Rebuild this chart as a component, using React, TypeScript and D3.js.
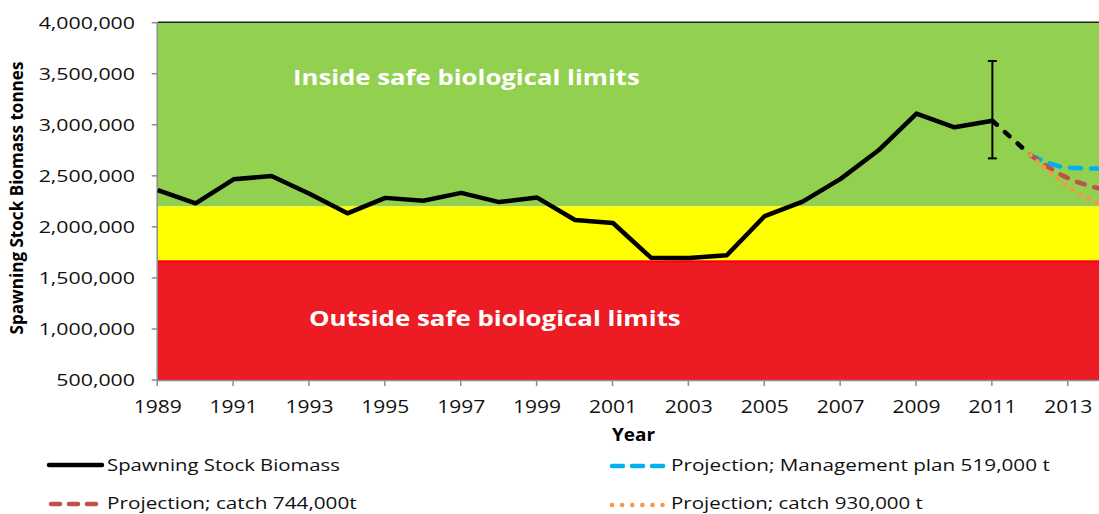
import React, { useLayoutEffect, useRef, useState } from "react";
import * as d3 from "d3";

// ---- data ----
const ssbYears = [1989, 1990, 1991, 1992, 1993, 1994, 1995, 1996, 1997, 1998, 1999, 2000, 2001, 2002, 2003, 2004, 2005, 2006, 2007, 2008, 2009, 2010, 2011];
const ssbValues = [2360000, 2231000, 2466000, 2498000, 2325000, 2133000, 2284000, 2256000, 2333000, 2243000, 2287000, 2067000, 2038000, 1698000, 1695000, 1722000, 2106000, 2247000, 2470000, 2750000, 3110000, 2975000, 3040000];
const bridgeYears = [2011, 2012];
const bridgeValues = [3040000, 2704000];
const projYears = [2012, 2013, 2014];
const mgmtPlanValues = [2704000, 2580000, 2570000];
const catch744Values = [2704000, 2476000, 2360000];
const catch930Values = [2704000, 2394000, 2190000];
const errYear = 2011;
const errLow = 2671000;
const errHigh = 3625000;
const bpa = 2200000;
const blim = 1670000;
const yTicks = [500000, 1000000, 1500000, 2000000, 2500000, 3000000, 3500000, 4000000];
const xTicks = [1989, 1991, 1993, 1995, 1997, 1999, 2001, 2003, 2005, 2007, 2009, 2011, 2013];
const legendLabels = [
  "Spawning Stock Biomass",
  "Projection; Management plan 519,000 t",
  "Projection; catch 744,000t",
  "Projection; catch 930,000 t",
];

// ---- layout ----
const W = 1099;
const H = 514;
const FONT = "'Open Sans', 'DejaVu Sans', sans-serif";
const x = d3.scaleLinear().domain([1989, 2014]).range([157.7, 1106.2]);
const y = d3.scaleLinear().domain([500000, 4000000]).range([380, 22.7]);

function FitText({ x: tx, y: ty, w, rotate = 0, anchor = "start", children, ...rest }: any) {
  const ref = useRef<SVGTextElement>(null);
  const [s, setS] = useState(1);
  useLayoutEffect(() => {
    if (ref.current) {
      const L = ref.current.getComputedTextLength();
      if (L > 0) setS(w / L);
    }
  }, [w, children]);
  return (
    <text ref={ref} transform={`translate(${tx},${ty}) rotate(${rotate}) scale(${s},1)`} textAnchor={anchor} {...rest}>
      {children}
    </text>
  );
}

function ScaledText({ x: tx, y: ty, sx, anchor, children, ...rest }: any) {
  return (
    <text transform={`translate(${tx},${ty}) scale(${sx},1)`} textAnchor={anchor} {...rest}>
      {children}
    </text>
  );
}

export default function App() {
  const line = d3.line<[number, number]>().x((d) => x(d[0])).y((d) => y(d[1]));
  const smooth = d3.line<[number, number]>().x((d) => x(d[0])).y((d) => y(d[1])).curve(d3.curveMonotoneX);
  const ssb = ssbYears.map((yr, i) => [yr, ssbValues[i]] as [number, number]);
  const bridge = bridgeYears.map((yr, i) => [yr, bridgeValues[i]] as [number, number]);
  const mk = (vals: number[]) => projYears.map((yr, i) => [yr, vals[i]] as [number, number]);

  const left = x(1989);
  const right = x(2014);
  const lw = 4.5;

  return (
    <svg width={W} height={H} style={{ position: "absolute", left: 0, top: 0, background: "#fff" }} fontFamily={FONT}>
      {/* zones */}
      <rect x={left} y={y(4000000)} width={right - left} height={y(bpa) - y(4000000)} fill="#92D050" />
      <rect x={left} y={y(bpa)} width={right - left} height={y(blim) - y(bpa)} fill="#FFFF00" />
      <rect x={left} y={y(blim)} width={right - left} height={y(500000) - y(blim)} fill="#ED1C24" />
      <line x1={left} x2={right} y1={y(blim) + 1} y2={y(blim) + 1} stroke="#FF0000" strokeWidth={2} />
      <line x1={left} x2={right} y1={y(4000000) - 0.5} y2={y(4000000) - 0.5} stroke="#222" strokeWidth={1.5} />

      {/* zone labels */}
      <FitText x={293} y={84.5} w={347} fill="#fff" fontWeight="bold" fontSize={22}>Inside safe biological limits</FitText>
      <FitText x={309} y={325.5} w={372} fill="#fff" fontWeight="bold" fontSize={22}>Outside safe biological limits</FitText>

      {/* axes */}
      <line x1={left - 0.5} x2={left - 0.5} y1={y(4000000)} y2={y(500000)} stroke="#8c8c8c" strokeWidth={1.5} />
      <line x1={left - 0.5} x2={right} y1={y(500000) + 0.5} y2={y(500000) + 0.5} stroke="#8c8c8c" strokeWidth={1.5} />
      {yTicks.map((t) => (
        <g key={t}>
          <line x1={left - 6} x2={left} y1={y(t)} y2={y(t)} stroke="#8c8c8c" strokeWidth={1.5} />
          <ScaledText x={135} y={y(t) + 6} sx={1.27} anchor="end" fontSize={16.8} fill="#111">
            {d3.format(",")(t)}
          </ScaledText>
        </g>
      ))}
      {xTicks.map((t) => (
        <g key={t}>
          <line x1={x(t) - 0.5} x2={x(t) - 0.5} y1={y(500000)} y2={y(500000) + 6} stroke="#8c8c8c" strokeWidth={1.5} />
          <ScaledText x={x(t)} y={413.3} sx={1.2} anchor="middle" fontSize={17.5} fill="#111">
            {String(t)}
          </ScaledText>
        </g>
      ))}
      <FitText x={612} y={441} w={43} fontWeight="bold" fontSize={17} fill="#000">Year</FitText>
      <FitText x={23} y={198} w={273} rotate={-90} anchor="middle" fontWeight="bold" fontSize={17} fill="#000">
        Spawning Stock Biomass tonnes
      </FitText>

      {/* series */}
      <path d={line(ssb) || ""} fill="none" stroke="#000" strokeWidth={lw} strokeLinejoin="round" />
      <path d={line(bridge) || ""} fill="none" stroke="#000" strokeWidth={lw} strokeDasharray="6 11" strokeLinecap="round" />
      <path d={smooth(mk(mgmtPlanValues)) || ""} fill="none" stroke="#00B0F0" strokeWidth={lw} strokeDasharray="11 10" strokeLinecap="round" />
      <path d={smooth(mk(catch744Values)) || ""} fill="none" stroke="#C0504D" strokeWidth={lw} strokeDasharray="8 10" strokeLinecap="round" />
      <path d={smooth(mk(catch930Values)) || ""} fill="none" stroke="#F79646" strokeWidth={lw} strokeDasharray="0.1 9" strokeLinecap="round" />

      {/* error bar */}
      <g stroke="#000" strokeWidth={2}>
        <line x1={x(errYear)} x2={x(errYear)} y1={y(errHigh)} y2={y(errLow)} />
        <line x1={x(errYear) - 4.5} x2={x(errYear) + 4.5} y1={y(errHigh)} y2={y(errHigh)} />
        <line x1={x(errYear) - 4.5} x2={x(errYear) + 4.5} y1={y(errLow)} y2={y(errLow)} />
      </g>

      {/* legend */}
      <line x1={49} x2={102} y1={465} y2={465} stroke="#000" strokeWidth={lw} strokeLinecap="round" />
      <FitText x={107} y={471} w={233} fontSize={17} fill="#111">{legendLabels[0]}</FitText>
      <line x1={51} x2={96} y1={504} y2={504} stroke="#C0504D" strokeWidth={lw} strokeDasharray="9 9" strokeLinecap="round" />
      <FitText x={107} y={508.5} w={250} fontSize={16} fill="#111">{legendLabels[2]}</FitText>
      <line x1={612} x2={666} y1={466} y2={466} stroke="#00B0F0" strokeWidth={lw} strokeDasharray="11 9" strokeLinecap="round" />
      <FitText x={671} y={471} w={379} fontSize={17} fill="#111">{legendLabels[1]}</FitText>
      <line x1={612} x2={663} y1={505} y2={505} stroke="#F79646" strokeWidth={lw} strokeDasharray="0.1 10" strokeLinecap="round" />
      <FitText x={671} y={508.5} w={252} fontSize={16} fill="#111">{legendLabels[3]}</FitText>
    </svg>
  );
}
